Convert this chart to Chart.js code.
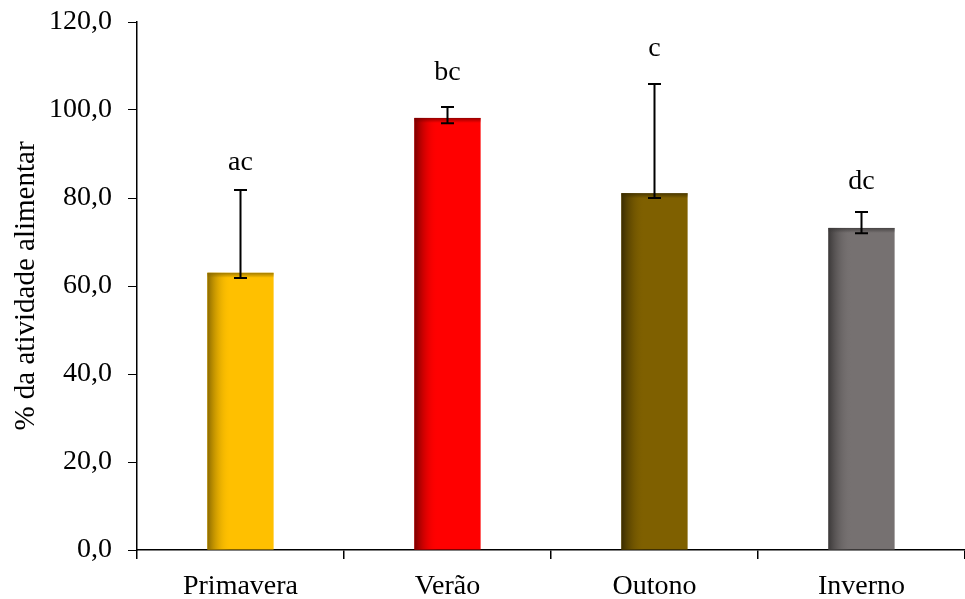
<!DOCTYPE html>
<html lang="pt">
<head>
  <meta charset="UTF-8">
  <title>% da atividade alimentar</title>
  <script src="https://cdn.jsdelivr.net/npm/chart.js"></script>
  <style>
    html, body { margin: 0; padding: 0; background: #fff; }
    #wrap { width: 965px; height: 599px; }
  </style>
</head>
<body>
  <div id="wrap"><canvas id="chart"></canvas></div>
  <script>
    // dados
    const estacoes = ['Primavera', 'Verão', 'Outono', 'Inverno'];
    const atividade = [63.0, 98.2, 81.1, 73.2];
    const erroSup = [81.8, 100.7, 105.9, 76.8];
    const erroInf = [61.8, 97.0, 80.0, 72.0];
    const letras = ['ac', 'bc', 'c', 'dc'];
    const letrasY = [88.0, 108.4, 113.9, 83.7];
    const cores = ['#FFC000', '#FF0000', '#7F6000', '#767171'];
    const sombras = ['#8a6a00', '#7a0000', '#3a2c00', '#3b3838'];

    const fonte = '"Liberation Serif", "Times New Roman", serif';

    // sombreado lateral das barras
    const sombraBarras = {
      id: 'sombraBarras',
      afterDatasetsDraw(chart) {
        const ctx = chart.ctx;
        chart.getDatasetMeta(0).data.forEach((bar, i) => {
          const left = bar.x - bar.width / 2;
          const top = bar.y;
          const h = bar.base - bar.y;
          const g = ctx.createLinearGradient(left, 0, left + bar.width * 0.35, 0);
          g.addColorStop(0, sombras[i]);
          g.addColorStop(1, cores[i] + '00');
          ctx.save();
          ctx.fillStyle = g;
          ctx.fillRect(left, top, bar.width, h);
          const gt = ctx.createLinearGradient(0, top, 0, top + 5);
          gt.addColorStop(0, sombras[i] + 'cc');
          gt.addColorStop(1, sombras[i] + '00');
          ctx.fillStyle = gt;
          ctx.fillRect(left, top, bar.width, 5);
          ctx.restore();
        });
      }
    };

    // barras de erro e letras
    const barrasErro = {
      id: 'barrasErro',
      afterDatasetsDraw(chart) {
        const ctx = chart.ctx;
        const y = chart.scales.y;
        chart.getDatasetMeta(0).data.forEach((bar, i) => {
          const yt = y.getPixelForValue(erroSup[i]);
          const yb = y.getPixelForValue(erroInf[i]);
          ctx.save();
          ctx.strokeStyle = '#000';
          ctx.lineWidth = 2;
          ctx.beginPath();
          ctx.moveTo(bar.x, yt); ctx.lineTo(bar.x, yb);
          ctx.moveTo(bar.x - 6.5, yt); ctx.lineTo(bar.x + 6.5, yt);
          ctx.moveTo(bar.x - 6.5, yb); ctx.lineTo(bar.x + 6.5, yb);
          ctx.stroke();
          ctx.fillStyle = '#000';
          ctx.font = '28px ' + fonte;
          ctx.textAlign = 'center';
          ctx.textBaseline = 'middle';
          ctx.fillText(letras[i], bar.x, y.getPixelForValue(letrasY[i]));
          ctx.restore();
        });
      }
    };

    new Chart(document.getElementById('chart'), {
      type: 'bar',
      data: {
        labels: estacoes,
        datasets: [{
          data: atividade,
          backgroundColor: cores,
          borderWidth: 0,
          barPercentage: 0.32,
          categoryPercentage: 1
        }]
      },
      options: {
        responsive: true,
        maintainAspectRatio: false,
        animation: false,
        layout: { padding: { top: 22, right: -5, left: 4, bottom: 0 } },
        plugins: {
          legend: { display: false },
          tooltip: { enabled: false }
        },
        scales: {
          x: {
            afterFit: s => { s.height = 49; s.paddingLeft = 0; s.paddingRight = 0; },
            grid: {
              offset: true,
              drawOnChartArea: false,
              color: '#000',
              tickLength: 9,
              lineWidth: 1.5
            },
            border: { color: '#000', width: 1.5 },
            ticks: {
              color: '#000',
              padding: 11,
              font: { family: fonte, size: 28 }
            }
          },
          y: {
            min: 0,
            max: 120,
            afterFit: s => { s.width = 133; s.paddingTop = 0; s.paddingBottom = 0; },
            grid: {
              drawOnChartArea: false,
              color: '#000',
              tickLength: 9,
              lineWidth: 1
            },
            border: { color: '#000', width: 1.5 },
            ticks: {
              stepSize: 20,
              color: '#000',
              padding: 16,
              font: { family: fonte, size: 28 },
              callback: v => v.toFixed(1).replace('.', ',')
            },
            title: {
              display: true,
              text: '% da atividade alimentar',
              color: '#000',
              padding: { top: 5, bottom: 0 },
              font: { family: fonte, size: 29 }
            }
          }
        }
      },
      plugins: [sombraBarras, barrasErro]
    });
  </script>
</body>
</html>
